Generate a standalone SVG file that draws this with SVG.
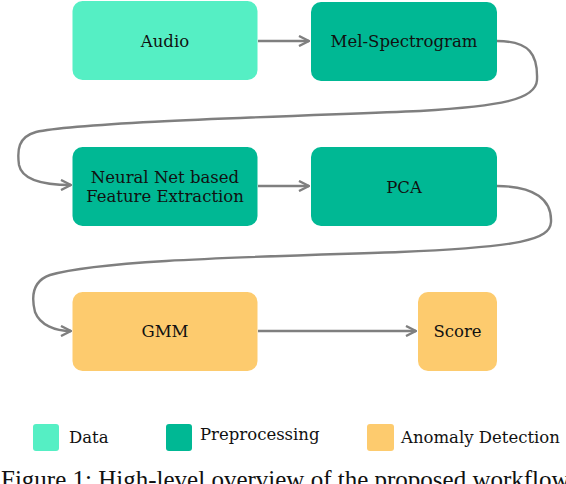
<svg xmlns="http://www.w3.org/2000/svg" width="566" height="484" viewBox="0 0 566 484">
<style>
.lbl{font-family:"DejaVu Serif","Liberation Serif",serif;font-size:16.5px;fill:#111;text-anchor:middle}
.leg{font-family:"DejaVu Serif","Liberation Serif",serif;font-size:16.5px;fill:#111}
.cap{font-family:"Liberation Serif",serif;font-size:25px;fill:#111}
.data{fill:#55EFC4}
.pre{fill:#00B894}
.ano{fill:#FDCB6E}
.conn{fill:none;stroke:#7f7f7f;stroke-width:2.4;marker-end:url(#ah)}
</style>
<defs>
<marker id="ah" viewBox="0 0 12 12" refX="11" refY="6" markerWidth="12" markerHeight="12" markerUnits="userSpaceOnUse" orient="auto">
<path d="M1,1 L11,6 L1,11" fill="none" stroke="#7f7f7f" stroke-width="2.4"/>
</marker>
</defs>
<rect width="566" height="484" fill="#fff"/>
<g id="connectors">
<path class="conn" d="M258,41 L309,41"/>
<path class="conn" d="M497,41 C530,41 538,55 537,80 C536,100 500,106 420,111 C300,116 80,122 36,132 C18,137 17,150 19,165 C22,180 45,185 71,185"/>
<path class="conn" d="M258,186 L309,186"/>
<path class="conn" d="M497,186 C535,186 552,200 551,222 C550,240 520,247 400,252 C250,257 100,260 50,275 C30,282 32,300 35,312 C40,325 55,331 71,331"/>
<path class="conn" d="M258,331 L416,331"/>
</g>
<g id="audio"><rect class="data" x="72.5" y="1" width="185" height="79" rx="10"/><text class="lbl" x="165" y="47">Audio</text></g>
<g id="mel"><rect class="pre" x="311" y="2" width="186" height="79" rx="10"/><text class="lbl" x="404" y="47">Mel-Spectrogram</text></g>
<g id="nn"><rect class="pre" x="72.5" y="147" width="185" height="79" rx="10"/><text class="lbl" x="165" y="183">Neural Net based</text><text class="lbl" x="165" y="201.5">Feature Extraction</text></g>
<g id="pca"><rect class="pre" x="311" y="147" width="186" height="79" rx="10"/><text class="lbl" x="404" y="192.5">PCA</text></g>
<g id="gmm"><rect class="ano" x="72.5" y="292" width="185" height="79" rx="10"/><text class="lbl" x="165" y="337">GMM</text></g>
<g id="score"><rect class="ano" x="418" y="292" width="79" height="79" rx="10"/><text class="lbl" x="457.5" y="337">Score</text></g>
<g id="legend">
<rect class="data" x="33" y="424" width="26" height="27" rx="3"/><text class="leg" x="69" y="443">Data</text>
<rect class="pre" x="166" y="424" width="26" height="27" rx="3"/><text class="leg" x="200" y="440">Preprocessing</text>
<rect class="ano" x="367" y="424" width="27" height="27" rx="3"/><text class="leg" x="401" y="443">Anomaly Detection</text>
</g>
<text class="cap" x="1" y="488">Figure 1: High-level overview of the proposed workflow</text>
</svg>
